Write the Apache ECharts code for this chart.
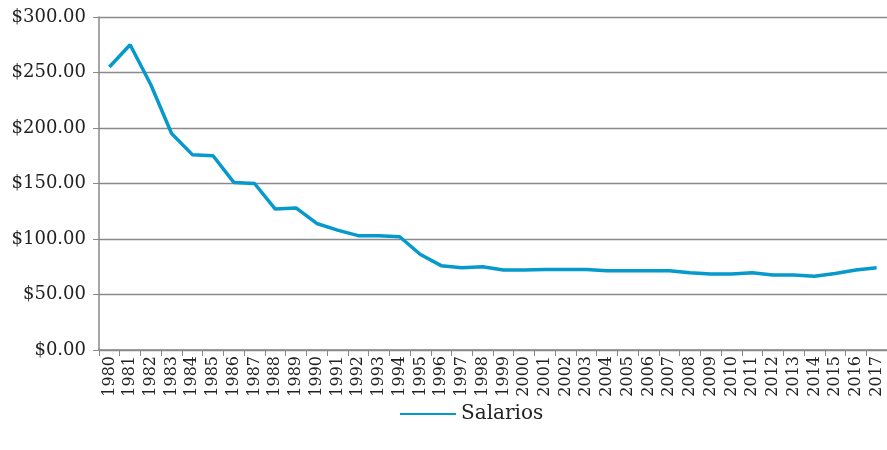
<!DOCTYPE html>
<html>
<head>
<meta charset="utf-8">
<script src="https://cdn.jsdelivr.net/npm/echarts@6/dist/echarts.min.js"></script>
<style>
  html, body { margin: 0; padding: 0; background: #fff; }
  #main { width: 887px; height: 450px; }
</style>
</head>
<body>
<div id="main"></div>
<script>
const years = ['1980','1981','1982','1983','1984','1985','1986','1987','1988','1989',
  '1990','1991','1992','1993','1994','1995','1996','1997','1998','1999',
  '2000','2001','2002','2003','2004','2005','2006','2007','2008','2009',
  '2010','2011','2012','2013','2014','2015','2016','2017'];
const salarios = [255, 275, 239, 195, 176, 175, 151, 150, 127, 128,
  114, 108, 103, 103, 102, 86, 76, 74, 75, 72,
  72, 72.5, 72.5, 72.5, 71.5, 71.5, 71.5, 71.5, 69.5, 68.5,
  68.5, 69.5, 67.5, 67.5, 66.5, 69, 72, 74];

const font = 'DejaVu Serif';
let chart = echarts.init(document.getElementById('main'));
chart.setOption({
  animation: false,
  textStyle: { fontFamily: font },
  grid: { left: 99, right: 0, top: 17, bottom: 100, containLabel: false },
  legend: {
    top: 399, left: 395,
    itemWidth: 56, itemHeight: 14, itemGap: 10,
    icon: 'path://M0,6 L56,6 L56,8 L0,8 Z',
    textStyle: { fontFamily: font, fontSize: 20, color: '#222' },
    data: ['Salarios']
  },
  xAxis: {
    type: 'category', data: years, boundaryGap: true,
    axisLine: { lineStyle: { color: '#888', width: 1.5 } },
    axisTick: { show: true, length: 6, lineStyle: { color: '#888' } },
    axisLabel: { rotate: 90, fontSize: 16, color: '#222', margin: 6, interval: 0 }
  },
  yAxis: {
    type: 'value', min: 0, max: 300, interval: 50,
    axisLine: { show: true, lineStyle: { color: '#888', width: 1.5 } },
    axisTick: { show: true, length: 6, lineStyle: { color: '#888' } },
    splitLine: { lineStyle: { color: '#8a8a8a', width: 1.3 } },
    axisLabel: {
      fontSize: 18, color: '#222', margin: 13,
      formatter: v => '$' + v.toFixed(2)
    }
  },
  series: [{
    name: 'Salarios', type: 'line', data: salarios,
    symbol: 'none', smooth: false,
    lineStyle: { color: '#0599cc', width: 3.5 },
    itemStyle: { color: '#0599cc' }
  }]
});
</script>
</body>
</html>
